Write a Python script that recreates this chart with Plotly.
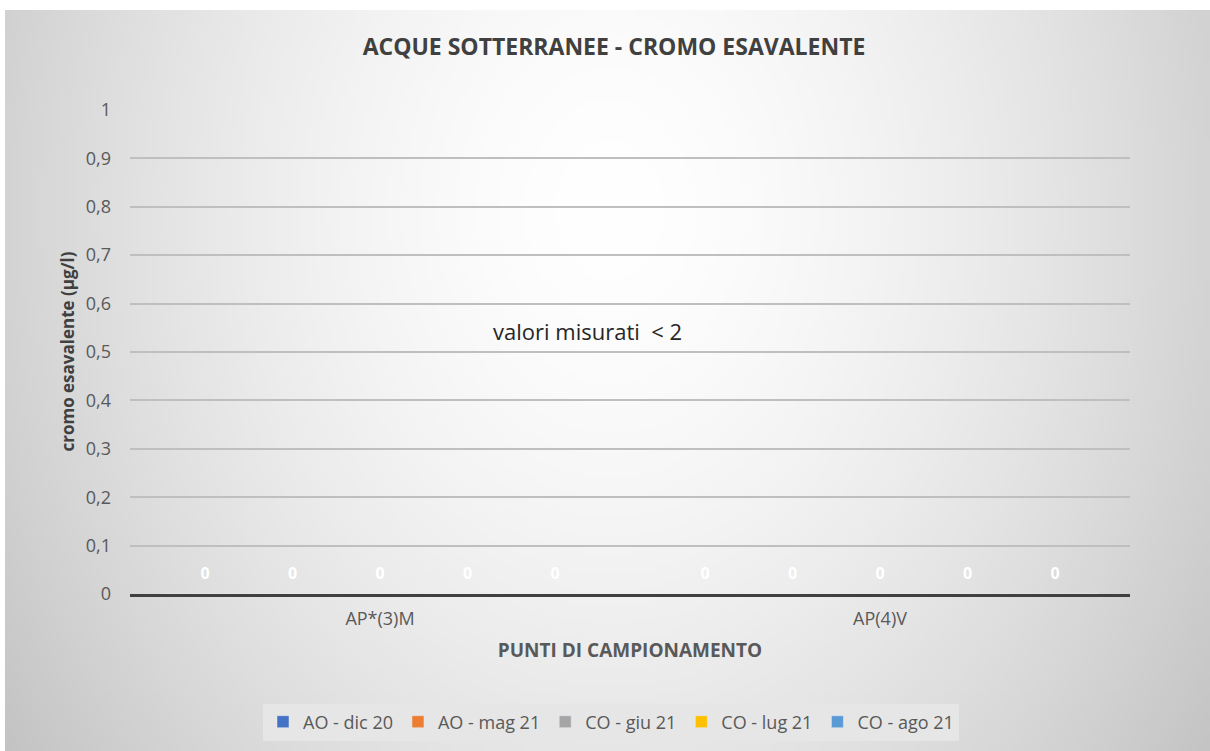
import base64
import struct
import zlib

import numpy as np
import plotly.graph_objects as go

# ---------------- data ----------------
categories = ["AP*(3)M", "AP(4)V"]
series_names = ["AO - dic 20", "AO - mag 21", "CO - giu 21", "CO - lug 21", "CO - ago 21"]
series_values = [
    [0, 0],
    [0, 0],
    [0, 0],
    [0, 0],
    [0, 0],
]
series_colors = ["#4472C4", "#ED7D31", "#A5A5A5", "#FFC000", "#5B9BD5"]
y_ticks = [0, 0.1, 0.2, 0.3, 0.4, 0.5, 0.6, 0.7, 0.8, 0.9, 1]
y_tick_labels = ["0", "0,1", "0,2", "0,3", "0,4", "0,5", "0,6", "0,7", "0,8", "0,9", "1"]

title_text = "ACQUE SOTTERRANEE - CROMO ESAVALENTE"
x_title = "PUNTI DI CAMPIONAMENTO"
y_title = "cromo esavalente (µg/l)"
note_text = "valori misurati  < 2"


# ---------------- background gradient (styling only) ----------------
def gradient_png(w=242, h=150):
    W, H = 1205.0, 741.0
    xs = (np.arange(w) + 0.5) / w * W
    ys = (np.arange(h) + 0.5) / h * H
    X, Y = np.meshgrid(xs, ys)
    d = np.sqrt(((X - 605) / 700.0) ** 2 + ((Y - 200) / 900.0) ** 2)
    v = 255 - 55 * np.clip(d, 0, 1.5) ** 1.6
    v = np.clip(v, 0, 255).astype(np.uint8)
    raw = b"".join(b"\x00" + bytes(np.repeat(row, 3)) for row in v)

    def chunk(tag, data):
        c = struct.pack(">I", len(data)) + tag + data
        return c + struct.pack(">I", zlib.crc32(tag + data) & 0xFFFFFFFF)

    png = b"\x89PNG\r\n\x1a\n"
    png += chunk(b"IHDR", struct.pack(">IIBBBBB", w, h, 8, 2, 0, 0, 0))
    png += chunk(b"IDAT", zlib.compress(raw, 9))
    png += chunk(b"IEND", b"")
    return "data:image/png;base64," + base64.b64encode(png).decode()


# plot area in pixels: x 130..1130, y 109..594
L, R, T, B = 130, 1130, 109, 594
PW, PH = R - L, B - T

fig = go.Figure()
for name, vals, col in zip(series_names, series_values, series_colors):
    fig.add_trace(
        go.Bar(
            name=name,
            x=categories,
            y=vals,
            marker_color=col,
            text=[f"<span style='font-size:16px'>{v}</span><br> " for v in vals],
            texttemplate="%{text}",
            textposition="outside",
            constraintext="none",
            textfont=dict(family="Open Sans", size=8, color="white", weight="bold"),
            cliponaxis=False,
        )
    )

fig.update_layout(
    width=1210,
    height=751,
    margin=dict(l=L, r=1210 - R, t=T, b=751 - B, autoexpand=False),
    paper_bgcolor="white",
    plot_bgcolor="rgba(0,0,0,0)",
    barmode="group",
    bargap=0.125,
    bargroupgap=0,
    font=dict(family="Open Sans", color="#595959"),
    title=dict(
        text=title_text,
        x=614 / 1210,
        xanchor="center",
        y=1 - 47 / 751,
        yanchor="middle",
        font=dict(family="Open Sans", size=23, color="#404040", weight="bold"),
    ),
    images=[
        dict(
            source=gradient_png(),
            xref="paper",
            yref="paper",
            x=(5 - L) / PW,
            y=(B - 10) / PH,
            sizex=(1210 - 5) / PW,
            sizey=(751 - 10) / PH,
            xanchor="left",
            yanchor="top",
            sizing="stretch",
            layer="below",
        )
    ],
    legend=dict(
        orientation="h",
        x=(611 - L) / PW,
        xanchor="center",
        y=(B - 722) / PH,
        yanchor="middle",
        bgcolor="#e6e6e6",
        font=dict(family="Open Sans", size=18, color="#595959"),
        itemwidth=30,
        traceorder="normal",
    ),
    annotations=[
        dict(
            text=note_text,
            xref="paper",
            yref="paper",
            x=(587 - L) / PW,
            y=(B - 331) / PH,
            showarrow=False,
            font=dict(family="Open Sans", size=22, color="#262626"),
        )
    ],
)

fig.update_xaxes(
    type="category",
    showgrid=False,
    showline=True,
    linecolor="#404040",
    linewidth=3,
    ticks="",
    tickfont=dict(family="Open Sans", size=18, color="#595959"),
    ticklabelstandoff=6,
    title=dict(
        text=x_title,
        font=dict(family="Open Sans", size=19, color="#595959", weight="bold"),
        standoff=16,
    ),
)
fig.update_yaxes(
    range=[0, 1.002],
    tickvals=y_ticks,
    ticktext=y_tick_labels,
    showgrid=True,
    gridcolor="#bfbfbf",
    gridwidth=1.5,
    zeroline=False,
    showline=False,
    ticks="",
    tickfont=dict(family="Open Sans", size=18, color="#595959"),
    ticklabelstandoff=18,
    title=dict(
        text=y_title,
        font=dict(family="Open Sans", size=17, color="#404040", weight="bold"),
        standoff=6,
    ),
)

fig.write_html(
    "out.html",
    config={"displayModeBar": False},
    post_script="document.body.style.margin='0';",
)
